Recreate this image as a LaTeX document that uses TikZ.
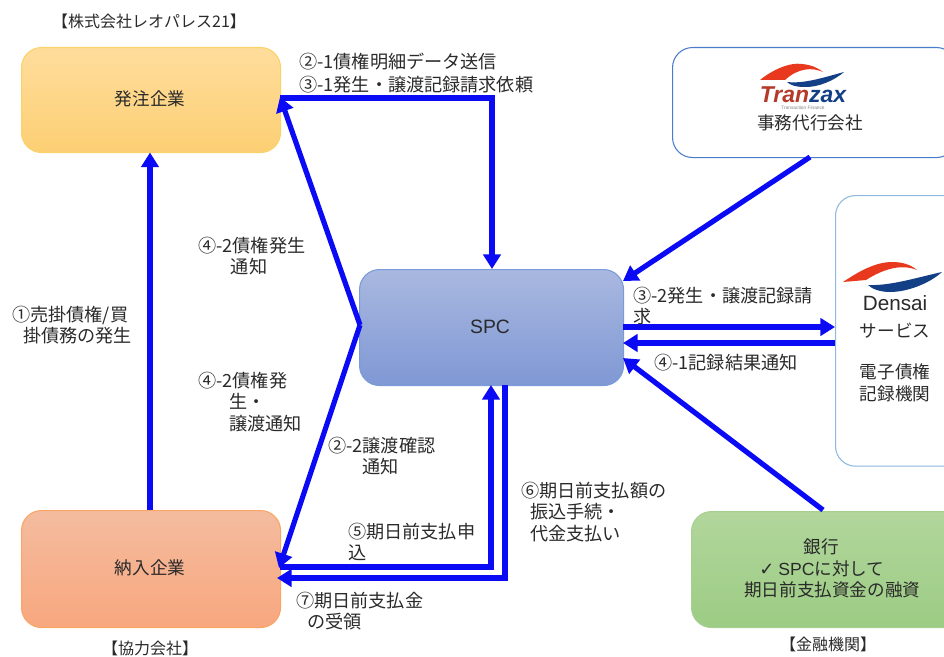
\documentclass[tikz,border=0pt]{standalone}
\usepackage{fontspec}
\setmainfont{Noto Sans CJK JP}
\newfontfamily\symfont{DejaVu Sans}
\newfontfamily\latinf{Liberation Sans}
\usetikzlibrary{arrows.meta}
\definecolor{flow}{HTML}{0A0AF5}
\definecolor{ink}{HTML}{2A2A2A}
\definecolor{oT}{HTML}{FEDD9C}\definecolor{oB}{HTML}{FDCF74}\definecolor{oL}{HTML}{FBD268}
\definecolor{rT}{HTML}{F4BC9F}\definecolor{rB}{HTML}{F8A77E}\definecolor{rL}{HTML}{F9A566}
\definecolor{bT}{HTML}{A9B8E0}\definecolor{bB}{HTML}{7F98D4}\definecolor{bL}{HTML}{7A9BD8}
\definecolor{gT}{HTML}{B2D69C}\definecolor{gB}{HTML}{9CCC84}\definecolor{gL}{HTML}{A6D090}
\definecolor{tL}{HTML}{4A7CCB}\definecolor{dL}{HTML}{8DB8E0}
\definecolor{lgR}{HTML}{E8391E}\definecolor{lgB}{HTML}{123F86}\definecolor{lgD}{HTML}{B53A2A}
\tikzset{
  x=0.75pt,y=-0.75pt,
  box/.style={rounded corners=15pt,anchor=north west,inner sep=0pt,line width=0.8pt},
  flowline/.style={draw=flow,line width=3.9pt,-{Triangle[length=11pt,width=13pt]}},
  lab/.style={font=\fontsize{13.6pt}{16pt}\selectfont,text=ink,align=left,inner sep=0pt,anchor=north west},
  ctr/.style={font=\fontsize{13.2pt}{16pt}\selectfont,text=ink,align=center,inner sep=0pt},
  small/.style={font=\fontsize{12pt}{15pt}\selectfont,text=ink,align=center,inner sep=0pt},
}
\begin{document}
\begin{tikzpicture}
\useasboundingbox (0,0) rectangle (944,656);
\clip (0,0) rectangle (944,656);
% boxes
\node[box,minimum width=194.25pt,minimum height=78.75pt,draw=oL,top color=oT,bottom color=oB] (hatchu) at (21,47) {};
\node[box,minimum width=194.25pt,minimum height=87.75pt,draw=rL,top color=rT,bottom color=rB] (nonyu) at (21,510) {};
\node[box,minimum width=198pt,minimum height=87pt,draw=bL,top color=bT,bottom color=bB] (spc) at (359,269) {};
\node[box,minimum width=213pt,minimum height=82.5pt,draw=tL,fill=white] (tranzax) at (672,47) {};
\node[box,minimum width=100pt,minimum height=203pt,draw=dL,fill=white] (densai) at (835,195) {};
\node[box,minimum width=213pt,minimum height=87pt,draw=gL,top color=gT,bottom color=gB] (bank) at (691,511) {};
% box texts
\node[ctr] (t1) at (150,99) {発注企業};
\node[ctr] (t2) at (150,568) {納入企業};
\node[ctr,font=\latinf\fontsize{14.5pt}{16pt}\selectfont] (t3) at (490,327) {SPC};
\node[ctr] (t4) at (810,123) {事務代行会社};
\node[ctr,font=\latinf\fontsize{15.5pt}{17pt}\selectfont] (t5a) at (895,303) {Densai};
\node[ctr] (t5b) at (895,331) {サービス};
\node[ctr] (t5c) at (895,372) {電子債権};
\node[ctr] (t5d) at (895,394) {記録機関};
\node[ctr] (t6a) at (821,547) {銀行};
\node[ctr,anchor=west] (t6b) at (759,569) {{\symfont\fontsize{13.5pt}{14pt}\selectfont ✓} {\latinf SPC}に対して};
\node[ctr,anchor=west] (t6c) at (744,590) {期日前支払資金の融資};
\node[small] (t7) at (149,21) {【株式会社レオパレス21】};
\node[small] (t8) at (150,648) {【協力会社】};
\node[small] (t9) at (828,644) {【金融機関】};
% logos
\fill[lgR] (760,80) .. controls (772,70) and (790,62) .. (802,64) .. controls (812,65) and (818,68) .. (823,72) .. controls (812,67) and (798,68) .. (785,80) -- cycle;
\fill[lgB] (787,82) .. controls (805,84) and (825,77) .. (844,72) .. controls (835,80) and (818,88) .. (803,87) .. controls (796,87) and (790,85) .. (787,82) -- cycle;
\node[inner sep=0pt,font=\latinf\bfseries\itshape\fontsize{17.2pt}{18pt}\selectfont] (tlogo) at (803,95) {\textcolor{lgD}{Tran}\textcolor{lgB}{zax}};
\node[inner sep=0pt,font=\latinf\fontsize{3.6pt}{4pt}\selectfont,text=gray] (tsub) at (803,107.5) {Transaction Finance};
\fill[lgR] (843,282) .. controls (858,272) and (875,262) .. (892,262) .. controls (903,262) and (911,265) .. (917,270) .. controls (902,264) and (885,268) .. (866,280) -- cycle;
\fill[lgB] (868,285) .. controls (890,286) and (915,278) .. (942,272) .. controls (930,283) and (908,292) .. (890,292) .. controls (880,292) and (872,289) .. (868,285) -- cycle;
% named ends
\coordinate (h1) at (150,152.5);
\coordinate (n1) at (150,510);
\coordinate (h2) at (280,98);
\coordinate (s1) at (492,269);
\coordinate (corner1) at (492,98);
\coordinate (h3) at (280,97);
\coordinate (sl) at (360,325);
\coordinate (n2) at (279,568);
\coordinate (tzb) at (810,157);
\coordinate (str) at (623,281);
\coordinate (sr1) at (623,327);
\coordinate (d1) at (835,327);
\coordinate (sr2) at (623,343);
\coordinate (d2) at (835,343);
\coordinate (bt) at (823,510);
\coordinate (sr3) at (623,358);
\coordinate (sb1) at (491,385);
\coordinate (n3) at (280,567);
\coordinate (c3) at (491,567);
\coordinate (sb2) at (505,385);
\coordinate (n4) at (277,578);
\coordinate (c4) at (505,578);
% connectors
\draw[flowline] (n1) -- (h1);
\draw[flowline] (h2) -- (corner1) -- (s1);
\draw[flowline] (sl) -- (h3);
\draw[flowline] (sl) -- (n2);
\draw[flowline] (tzb) -- (str);
\draw[flowline] (sr1) -- (d1);
\draw[flowline] (d2) -- (sr2);
\draw[flowline] (bt) -- (sr3);
\draw[flowline] (n3) -- (c3) -- (sb1);
\draw[flowline] (sb2) -- (c4) -- (n4);
% labels
\node[lab,font=\fontsize{13.6pt}{17pt}\selectfont] (l1) at (299,53) {②-1債権明細データ送信\\③-1発生・譲渡記録請求依頼};
\node[lab] (l2) at (198,237) {④-2債権発生\\\hspace*{1.8em}通知};
\node[lab] (l3) at (12,306) {①売掛債権/買\\\hspace*{0.6em}掛債務の発生};
\node[lab] (l4) at (198,372) {④-2債権発\\\hspace*{1.7em}生・\\\hspace*{1.7em}譲渡通知};
\node[lab] (l5) at (328,437) {②-2譲渡確認\\\hspace*{1.9em}通知};
\node[lab] (l6) at (521,482) {⑥期日前支払額の\\\hspace*{0.5em}振込手続・\\\hspace*{0.5em}代金支払い};
\node[lab] (l7) at (348,523) {⑤期日前支払申\\込};
\node[lab] (l8) at (296,592) {⑦期日前支払金\\\hspace*{0.6em}の受領};
\node[lab] (l9) at (633,287) {③-2発生・譲渡記録請\\求};
\node[lab] (l10) at (654,354) {④-1記録結果通知};
\end{tikzpicture}
\end{document}
